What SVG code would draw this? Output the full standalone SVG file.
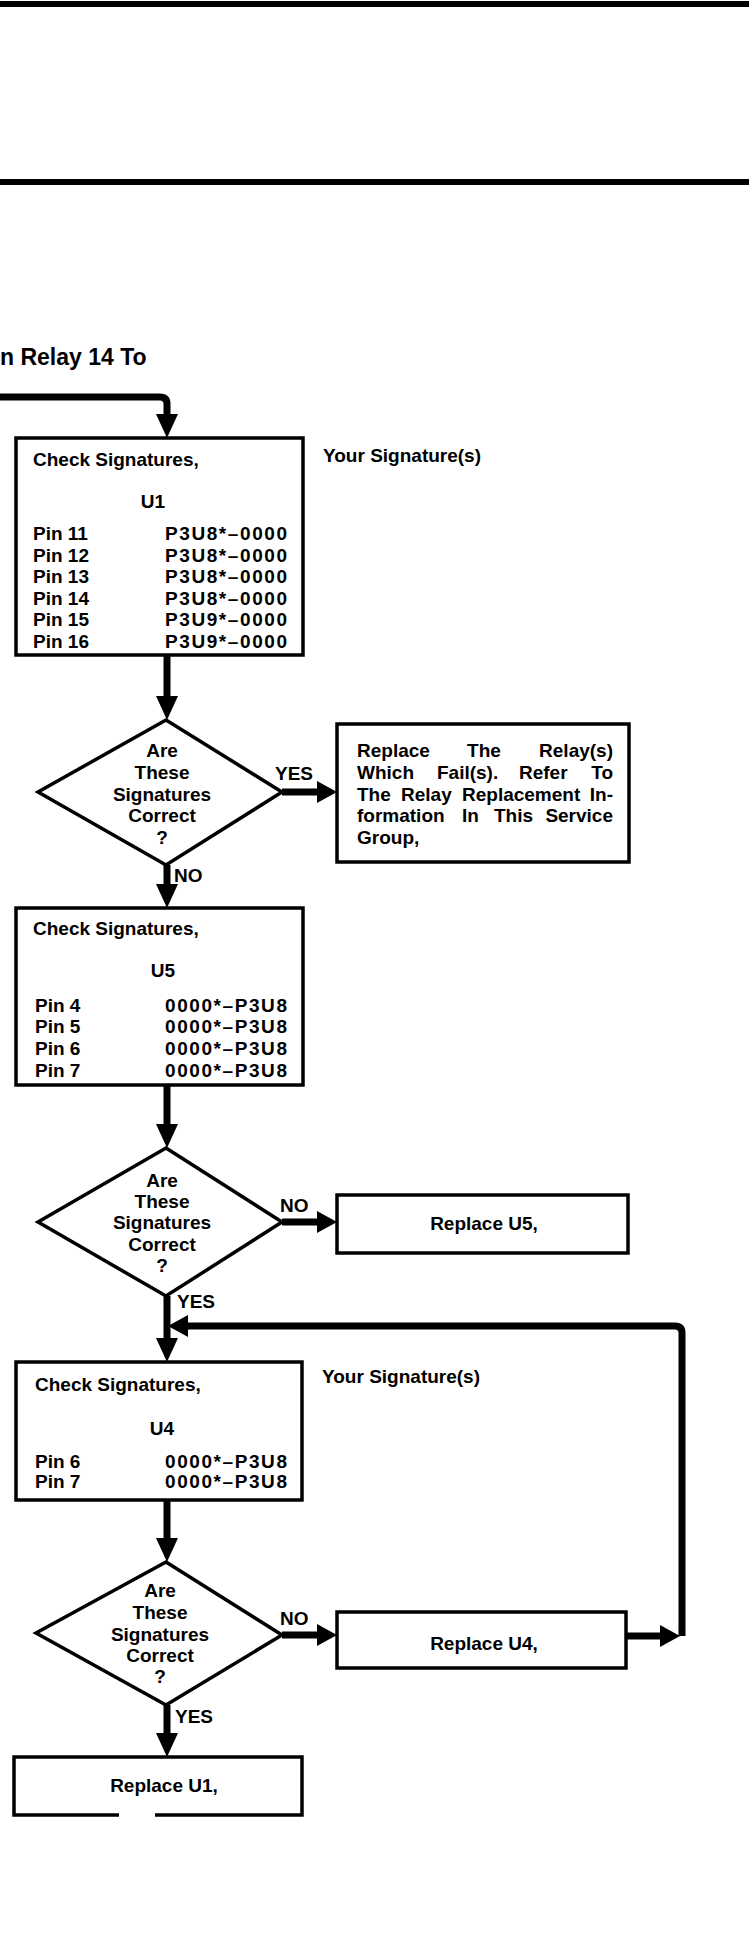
<svg xmlns="http://www.w3.org/2000/svg" width="749" height="1941" viewBox="0 0 749 1941">
<style>
text{font-family:"Liberation Sans",Arial,sans-serif;font-weight:bold;font-size:19px;fill:#000}
.c{text-anchor:middle}
.e{text-anchor:end}
.big{font-size:23px}
.box{fill:#fff;stroke:#000;stroke-width:3.5}
.conn{fill:none;stroke:#000;stroke-width:7}
.bar{stroke:#000;stroke-width:6}
</style>
<defs>
<polygon id="ahd" points="-11,-24 11,-24 0,0"/>
<polygon id="ahr" points="-20,-11 -20,11 0,0"/>
<polygon id="ahl" points="20,-11 20,11 0,0"/>
</defs>
<rect width="749" height="1941" fill="#fff"/>
<line class="bar" x1="0" y1="4" x2="749" y2="4"/>
<line class="bar" x1="0" y1="182" x2="749" y2="182"/>
<text class="big" x="0" y="365">n Relay 14 To</text>

<g id="connectors">
<path class="conn" d="M0,397 H160 Q167,397 167,404 V416"/>
<use href="#ahd" x="167" y="438"/>
<path class="conn" d="M167,655 V700"/>
<use href="#ahd" x="167" y="720"/>
<path class="conn" d="M282,792 H320"/>
<use href="#ahr" x="337" y="792"/>
<path class="conn" d="M167,865 V890"/>
<use href="#ahd" x="167" y="908"/>
<path class="conn" d="M167,1085 V1128"/>
<use href="#ahd" x="167" y="1148"/>
<path class="conn" d="M282,1222 H320"/>
<use href="#ahr" x="337" y="1222"/>
<path class="conn" d="M167,1296 V1342"/>
<use href="#ahd" x="167" y="1362"/>
<path class="conn" d="M682,1636 V1333 Q682,1326 675,1326 H188"/>
<use href="#ahl" x="168" y="1326"/>
<path class="conn" d="M167,1500 V1542"/>
<use href="#ahd" x="167" y="1562"/>
<path class="conn" d="M282,1635 H320"/>
<use href="#ahr" x="337" y="1635"/>
<path class="conn" d="M626,1636 H662"/>
<use href="#ahr" x="680" y="1636"/>
<path class="conn" d="M167,1705 V1737"/>
<use href="#ahd" x="167" y="1757"/>
<text x="275" y="780">YES</text>
<text x="174" y="882">NO</text>
<text x="280" y="1212">NO</text>
<text x="177" y="1308">YES</text>
<text x="280" y="1625">NO</text>
<text x="175" y="1723">YES</text>
</g>

<g id="box1">
<rect class="box" x="16" y="438" width="287" height="217"/>
<text x="33" y="466">Check Signatures,</text>
<text class="c" x="153" y="508">U1</text>
<text x="33" y="540">Pin 11</text><text x="165" y="540" textLength="122" lengthAdjust="spacing">P3U8*–0000</text>
<text x="33" y="562">Pin 12</text><text x="165" y="562" textLength="122" lengthAdjust="spacing">P3U8*–0000</text>
<text x="33" y="583">Pin 13</text><text x="165" y="583" textLength="122" lengthAdjust="spacing">P3U8*–0000</text>
<text x="33" y="605">Pin 14</text><text x="165" y="605" textLength="122" lengthAdjust="spacing">P3U8*–0000</text>
<text x="33" y="626">Pin 15</text><text x="165" y="626" textLength="122" lengthAdjust="spacing">P3U9*–0000</text>
<text x="33" y="648">Pin 16</text><text x="165" y="648" textLength="122" lengthAdjust="spacing">P3U9*–0000</text>
</g>
<g id="sig1"><text x="323" y="462">Your Signature(s)</text></g>

<g id="dec1">
<polygon class="box" points="166,720 282,792 166,865 38,792"/>
<text class="c" x="162" y="757">Are</text>
<text class="c" x="162" y="779">These</text>
<text class="c" x="162" y="801">Signatures</text>
<text class="c" x="162" y="822">Correct</text>
<text class="c" x="162" y="844">?</text>
</g>

<g id="box2">
<rect class="box" x="337" y="724" width="292" height="138"/>
<text x="357" y="757">Replace</text><text class="c" x="484" y="757">The</text><text class="e" x="613" y="757">Relay(s)</text>
<text x="357" y="779">Which</text><text x="437" y="779">Fail(s).</text><text x="519" y="779">Refer</text><text class="e" x="613" y="779">To</text>
<text x="357" y="801">The</text><text x="401" y="801">Relay</text><text x="462" y="801">Replacement</text><text class="e" x="613" y="801">In-</text>
<text x="357" y="822">formation</text><text x="462" y="822">In</text><text x="494" y="822">This</text><text class="e" x="613" y="822">Service</text>
<text x="357" y="844">Group,</text>
</g>

<g id="box3">
<rect class="box" x="16" y="908" width="287" height="177"/>
<text x="33" y="935">Check Signatures,</text>
<text class="c" x="163" y="977">U5</text>
<text x="35" y="1012">Pin 4</text><text x="165" y="1012" textLength="122" lengthAdjust="spacing">0000*–P3U8</text>
<text x="35" y="1033">Pin 5</text><text x="165" y="1033" textLength="122" lengthAdjust="spacing">0000*–P3U8</text>
<text x="35" y="1055">Pin 6</text><text x="165" y="1055" textLength="122" lengthAdjust="spacing">0000*–P3U8</text>
<text x="35" y="1077">Pin 7</text><text x="165" y="1077" textLength="122" lengthAdjust="spacing">0000*–P3U8</text>
</g>

<g id="dec2">
<polygon class="box" points="166,1148 282,1222 166,1296 38,1222"/>
<text class="c" x="162" y="1187">Are</text>
<text class="c" x="162" y="1208">These</text>
<text class="c" x="162" y="1229">Signatures</text>
<text class="c" x="162" y="1251">Correct</text>
<text class="c" x="162" y="1272">?</text>
</g>

<g id="box4">
<rect class="box" x="337" y="1195" width="291" height="58"/>
<text class="c" x="484" y="1230">Replace U5,</text>
</g>

<g id="box5">
<rect class="box" x="16" y="1362" width="286" height="138"/>
<text x="35" y="1391">Check Signatures,</text>
<text class="c" x="162" y="1435">U4</text>
<text x="35" y="1468">Pin 6</text><text x="165" y="1468" textLength="122" lengthAdjust="spacing">0000*–P3U8</text>
<text x="35" y="1488">Pin 7</text><text x="165" y="1488" textLength="122" lengthAdjust="spacing">0000*–P3U8</text>
</g>
<g id="sig2"><text x="322" y="1383">Your Signature(s)</text></g>

<g id="dec3">
<polygon class="box" points="166,1562 282,1635 166,1705 36,1633"/>
<text class="c" x="160" y="1597">Are</text>
<text class="c" x="160" y="1619">These</text>
<text class="c" x="160" y="1641">Signatures</text>
<text class="c" x="160" y="1662">Correct</text>
<text class="c" x="160" y="1683">?</text>
</g>

<g id="box6">
<rect class="box" x="337" y="1612" width="289" height="56"/>
<text class="c" x="484" y="1650">Replace U4,</text>
</g>

<g id="box7">
<path class="box" d="M119,1815 H14 V1757 H302 V1815 H155" fill="none"/>
<text class="c" x="164" y="1792">Replace U1,</text>
</g>
</svg>
